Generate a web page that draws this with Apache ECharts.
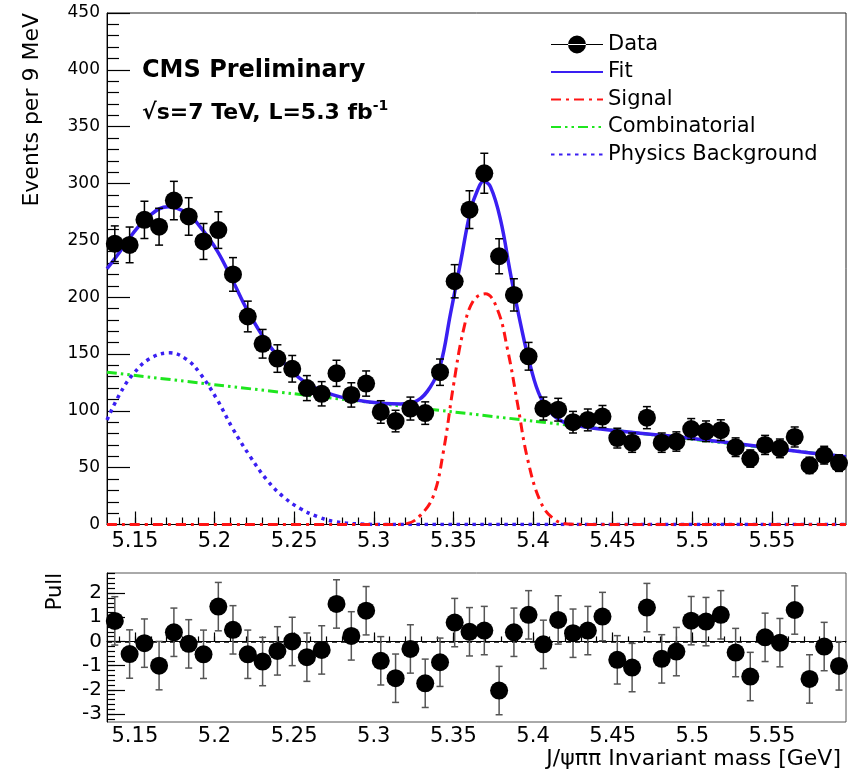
<!DOCTYPE html>
<html><head><meta charset="utf-8">
<script src="https://cdn.jsdelivr.net/npm/echarts@6/dist/echarts.min.js"></script>
<style>html,body{margin:0;padding:0;background:#fff}#c{width:856px;height:776px}</style>
</head><body><div id="c"></div>
<script>
// ---- data ----
const binCenters = [5.1374,5.1467,5.1560,5.1652,5.1745,5.1838,5.1931,5.2024,5.2116,5.2209,
  5.2302,5.2395,5.2488,5.2580,5.2673,5.2766,5.2859,5.2952,5.3044,5.3137,
  5.3230,5.3323,5.3416,5.3508,5.3601,5.3694,5.3787,5.3880,5.3972,5.4065,
  5.4158,5.4251,5.4344,5.4436,5.4529,5.4622,5.4715,5.4808,5.4900,5.4993,
  5.5086,5.5179,5.5272,5.5364,5.5457,5.5550,5.5643,5.5736,5.5828,5.5921];
const counts = [247,246,268,262,285,271,249,259,220,183,
  159,146,137,120,115,133,114,124,99,91,
  102,98,134,214,277,309,236,202,148,102,
  101,90,92,95,76,72,94,72,73,84,
  82,83,68,58,70,67,77,52,61,54];
const countErr = [15.7,15.7,16.4,16.2,16.9,16.5,15.8,16.1,14.8,13.5,
  12.6,12.1,11.7,11.0,10.7,11.5,10.7,11.1,9.9,9.5,
  10.1,9.9,11.6,14.6,16.6,17.6,15.4,14.2,12.2,10.1,
  10.0,9.5,9.6,9.7,8.7,8.5,9.7,8.5,8.5,9.2,
  9.1,9.1,8.2,7.6,8.4,8.2,8.8,7.2,7.8,7.3];
const pulls = [0.85,-0.52,-0.07,-1.0,0.38,-0.1,-0.53,1.44,0.48,-0.53,
  -0.83,-0.39,0.0,-0.65,-0.35,1.55,0.23,1.27,-0.8,-1.52,
  -0.31,-1.73,-0.86,0.78,0.4,0.45,-2.03,0.38,1.1,-0.12,
  0.89,0.34,0.45,1.03,-0.76,-1.08,1.4,-0.72,-0.42,0.86,
  0.82,1.1,-0.46,-1.45,0.17,-0.05,1.3,-1.55,-0.21,-1.01];
const pullErr = [1,1,1,1,1,1,1,1,1,1, 1,1,1,1,1,1,1,1,1,1, 1,1,1,1,1,1,1,1,1,1,
  1,1,1,1,1,1,1,1,1,1, 1,1,1,1,1,1,1,1,1,1];

const fitX = [5.1325,5.1406,5.1487,5.1594,5.1708,5.1827,5.1909,5.2016,5.2116,5.2204,
  5.2330,5.2456,5.2582,5.2745,5.2959,5.3167,5.3274,5.3355,5.3418,5.3481,
  5.3544,5.3607,5.3651,5.3689,5.3733,5.3796,5.3858,5.3921,5.3984,5.4047,
  5.4129,5.4217,5.4425,5.4846,5.5261,5.5682,5.5965];
const fitY = [225,240,256,272,279.6,274,262,241,214,189,
  160,139,124,114,108,106,109,121,140,185,
  230,276,294,302,297,268,221,177,139,112,
  96,89,84,78,71.5,64,59.6];

const sigX = [5.1325,5.3100,5.3211,5.3292,5.3374,5.3437,5.3500,5.3563,5.3626,5.3701,
  5.3777,5.3840,5.3903,5.3965,5.4047,5.4129,5.4217,5.4350,5.5965];
const sigY = [0,0,1,8,25,64,122,171,197,203,
  189,154,106,58,20,5,0.5,0,0];

const combX = [5.1325,5.20,5.25,5.30,5.35,5.40,5.45,5.50,5.55,5.5965];
const combY = [134,123,115,107,99,91,83,75,67,59.6];

const physX = [5.1325,5.1406,5.1487,5.1594,5.1720,5.1827,5.1909,5.2016,5.2116,5.2223,
  5.2330,5.2431,5.2538,5.2645,5.2745,5.2915,5.3100,5.5965];
const physY = [92,115,132,146,151,145,133,110,84,60,
  39,24.5,14,7,2.8,0.4,0,0];

const xTickLabels = [5.15,5.2,5.25,5.3,5.35,5.4,5.45,5.5,5.55];
const pullTickLabels = [-3,-2,-1,0,1,2];
const X_MIN = 5.1325, X_MAX = 5.5965;

// minor tick positions (axis decoration)
const minorX = [];
for (let i = 514; i <= 559; i++) minorX.push(+(i / 100).toFixed(2));
const minorPull = [];
for (let i = -16; i <= 14; i++) minorPull.push(+(i / 5).toFixed(1));

const FONT = '"DejaVu Sans", Arial, sans-serif';
const BLUE = '#3a1ff2', RED = '#ff1414', GREEN = '#1ee61e';

const zip = (a, b) => a.map((v, i) => [v, b[i]]);

function errRender(capHalf, color, width) {
  return function (params, api) {
    const x = api.value(0), y = api.value(1), e = api.value(2);
    const t = api.coord([x, y + e]);
    const b = api.coord([x, y - e]);
    const st = { stroke: color, lineWidth: width };
    return { type: 'group', children: [
      { type: 'line', shape: { x1: t[0], y1: t[1], x2: b[0], y2: b[1] }, style: st },
      { type: 'line', shape: { x1: t[0] - capHalf, y1: t[1], x2: t[0] + capHalf, y2: t[1] }, style: st },
      { type: 'line', shape: { x1: b[0] - capHalf, y1: b[1], x2: b[0] + capHalf, y2: b[1] }, style: st }
    ]};
  };
}

const chart = echarts.init(document.getElementById('c'), null, { renderer: 'canvas' });

const labelFmt = v => String(+(+v).toFixed(2));
const hideSym = { opacity: 0 };

const option = {
  animation: false,
  backgroundColor: '#fff',
  title: [
    { text: 'CMS Preliminary', left: 137, top: 54,
      textStyle: { fontFamily: FONT, fontWeight: 'bold', fontSize: 24, color: '#000' } },
    { text: '{a|√s=7 TeV, L=5.3 fb}{b|-1}', left: 137, top: 94,
      textStyle: { rich: {
        a: { fontFamily: FONT, fontWeight: 'bold', fontSize: 22, color: '#000', lineHeight: 28 },
        b: { fontFamily: FONT, fontWeight: 'bold', fontSize: 14, color: '#000', verticalAlign: 'top', lineHeight: 16 }
      } } }
  ],
  legend: {
    orient: 'vertical', left: 545, top: 29, itemWidth: 52, itemHeight: 18, itemGap: 6.5,
    selectedMode: false,
    textStyle: { fontFamily: FONT, fontSize: 21, color: '#000' },
    data: [
      { name: 'Data', icon: 'path://M0,8.4H52V9.6H0Z M26,0A9,9 0 1,0 26,18A9,9 0 1,0 26,0Z', itemStyle: { color: '#000', opacity: 1 } },
      { name: 'Fit', itemStyle: hideSym },
      { name: 'Signal', itemStyle: hideSym },
      { name: 'Combinatorial', itemStyle: hideSym },
      { name: 'Physics Background', itemStyle: hideSym }
    ]
  },
  grid: [
    { left: 107, right: 10, top: 13, height: 511.5, show: true, borderColor: '#222', borderWidth: 1, backgroundColor: 'transparent' },
    { left: 107, right: 10, top: 573, height: 149, show: true, borderColor: '#555', borderWidth: 1, backgroundColor: 'transparent' }
  ],
  xAxis: [
    { gridIndex: 0, type: 'value', min: X_MIN, max: X_MAX, position: 'bottom',
      axisLine: { show: true, lineStyle: { color: '#000', width: 1 } },
      axisTick: { show: true, inside: true, length: 13, customValues: xTickLabels, lineStyle: { color: '#000', width: 1.2 } },
      axisLabel: { show: true, customValues: xTickLabels, formatter: labelFmt, fontFamily: FONT, fontSize: 21, color: '#000', margin: 7 },
      splitLine: { show: false } },
    { gridIndex: 0, type: 'value', min: X_MIN, max: X_MAX, position: 'bottom', offset: 0,
      axisLine: { show: false },
      axisTick: { show: true, inside: true, length: 7, customValues: minorX, lineStyle: { color: '#000', width: 1.2 } },
      axisLabel: { show: false }, splitLine: { show: false } },
    { gridIndex: 1, type: 'value', min: X_MIN, max: X_MAX, position: 'bottom',
      axisLine: { show: true, lineStyle: { color: '#000', width: 1 } },
      axisTick: { show: true, inside: true, length: 9, customValues: xTickLabels, lineStyle: { color: '#000', width: 1.2 } },
      axisLabel: { show: true, customValues: xTickLabels, formatter: labelFmt, fontFamily: FONT, fontSize: 21, color: '#000', margin: 4 },
      splitLine: { show: false } },
    { gridIndex: 1, type: 'value', min: X_MIN, max: X_MAX, position: 'bottom', offset: 0,
      axisLine: { show: false },
      axisTick: { show: true, inside: true, length: 5, customValues: minorX, lineStyle: { color: '#000', width: 1.2 } },
      axisLabel: { show: false }, splitLine: { show: false } }
  ],
  yAxis: [
    { gridIndex: 0, type: 'value', min: 0, max: 450, interval: 50, position: 'left',
      axisLine: { show: true, lineStyle: { color: '#000', width: 1 } },
      axisTick: { show: true, inside: true, length: 23, lineStyle: { color: '#000', width: 1.2 } },
      minorTick: { show: true, splitNumber: 5, length: 12, lineStyle: { color: '#000', width: 1.2 } },
      axisLabel: { fontFamily: FONT, fontSize: 17, color: '#000', margin: 7 },
      splitLine: { show: false }, minorSplitLine: { show: false } },
    { gridIndex: 1, type: 'value', min: -3.33, max: 2.83, position: 'left',
      axisLine: { show: true, lineStyle: { color: '#000', width: 1 } },
      axisTick: { show: true, inside: true, length: 18, customValues: pullTickLabels, lineStyle: { color: '#000', width: 1.2 } },
      axisLabel: { customValues: pullTickLabels, fontFamily: FONT, fontSize: 20, color: '#000', margin: 5 },
      splitLine: { show: false } },
    { gridIndex: 1, type: 'value', min: -3.33, max: 2.83, position: 'left', offset: 0,
      axisLine: { show: false },
      axisTick: { show: true, inside: true, length: 8, customValues: minorPull, lineStyle: { color: '#000', width: 1.2 } },
      axisLabel: { show: false }, splitLine: { show: false } }
  ],
  graphic: [
    { type: 'text', x: 32, y: 13, rotation: Math.PI / 2,
      style: { text: 'Events per 9 MeV', font: '22px ' + FONT, fill: '#000', align: 'right', verticalAlign: 'middle' } },
    { type: 'text', x: 56, y: 573, rotation: Math.PI / 2,
      style: { text: 'Pull', font: '21px ' + FONT, fill: '#000', align: 'right', verticalAlign: 'middle' } },
    { type: 'text', x: 841, y: 759,
      style: { text: 'J/ψππ Invariant mass [GeV]', font: '22px ' + FONT, fill: '#000', align: 'right', verticalAlign: 'middle' } }
  ],
  series: [
    { name: 'Combinatorial', type: 'line', xAxisIndex: 0, yAxisIndex: 0, data: zip(combX, combY),
      symbol: 'none', smooth: 0.3, z: 2,
      lineStyle: { color: GREEN, width: 3, type: [10, 4, 2.5, 4, 2.5, 4] }, itemStyle: { color: GREEN } },
    { name: 'Physics Background', type: 'line', xAxisIndex: 0, yAxisIndex: 0, data: zip(physX, physY),
      symbol: 'none', smooth: 0.4, z: 3,
      lineStyle: { color: BLUE, width: 3.5, type: [3.5, 4.5] }, itemStyle: { color: BLUE } },
    { name: 'Signal', type: 'line', xAxisIndex: 0, yAxisIndex: 0, data: zip(sigX, sigY),
      symbol: 'none', smooth: 0.4, z: 3,
      lineStyle: { color: RED, width: 3, type: [10, 5, 3, 5] }, itemStyle: { color: RED } },
    { name: 'Fit', type: 'line', xAxisIndex: 0, yAxisIndex: 0, data: zip(fitX, fitY),
      symbol: 'none', smooth: 0.4, z: 4,
      lineStyle: { color: BLUE, width: 3.5 }, itemStyle: { color: BLUE } },
    { name: 'DataErr', type: 'custom', xAxisIndex: 0, yAxisIndex: 0, z: 5,
      data: binCenters.map((x, i) => [x, counts[i], countErr[i]]),
      encode: { x: 0, y: 1 }, renderItem: errRender(4, '#000', 1.5), silent: true },
    { name: 'Data', type: 'scatter', xAxisIndex: 0, yAxisIndex: 0, z: 6,
      data: zip(binCenters, counts), symbol: 'circle', symbolSize: 18,
      itemStyle: { color: '#000', opacity: 1 } },
    { name: 'PullErr', type: 'custom', xAxisIndex: 2, yAxisIndex: 1, z: 5,
      data: binCenters.map((x, i) => [x, pulls[i], pullErr[i]]),
      encode: { x: 0, y: 1 }, renderItem: errRender(3.5, '#555', 1.5), silent: true },
    { name: 'Pull', type: 'scatter', xAxisIndex: 2, yAxisIndex: 1, z: 6,
      data: zip(binCenters, pulls), symbol: 'circle', symbolSize: 18,
      itemStyle: { color: '#000', opacity: 1 },
      markLine: { silent: true, symbol: 'none', label: { show: false }, z: 1,
        lineStyle: { color: '#000', width: 1.5, type: [5, 4] },
        data: [{ yAxis: 0 }] } }
  ]
};
chart.setOption(option);
</script>
</body></html>
